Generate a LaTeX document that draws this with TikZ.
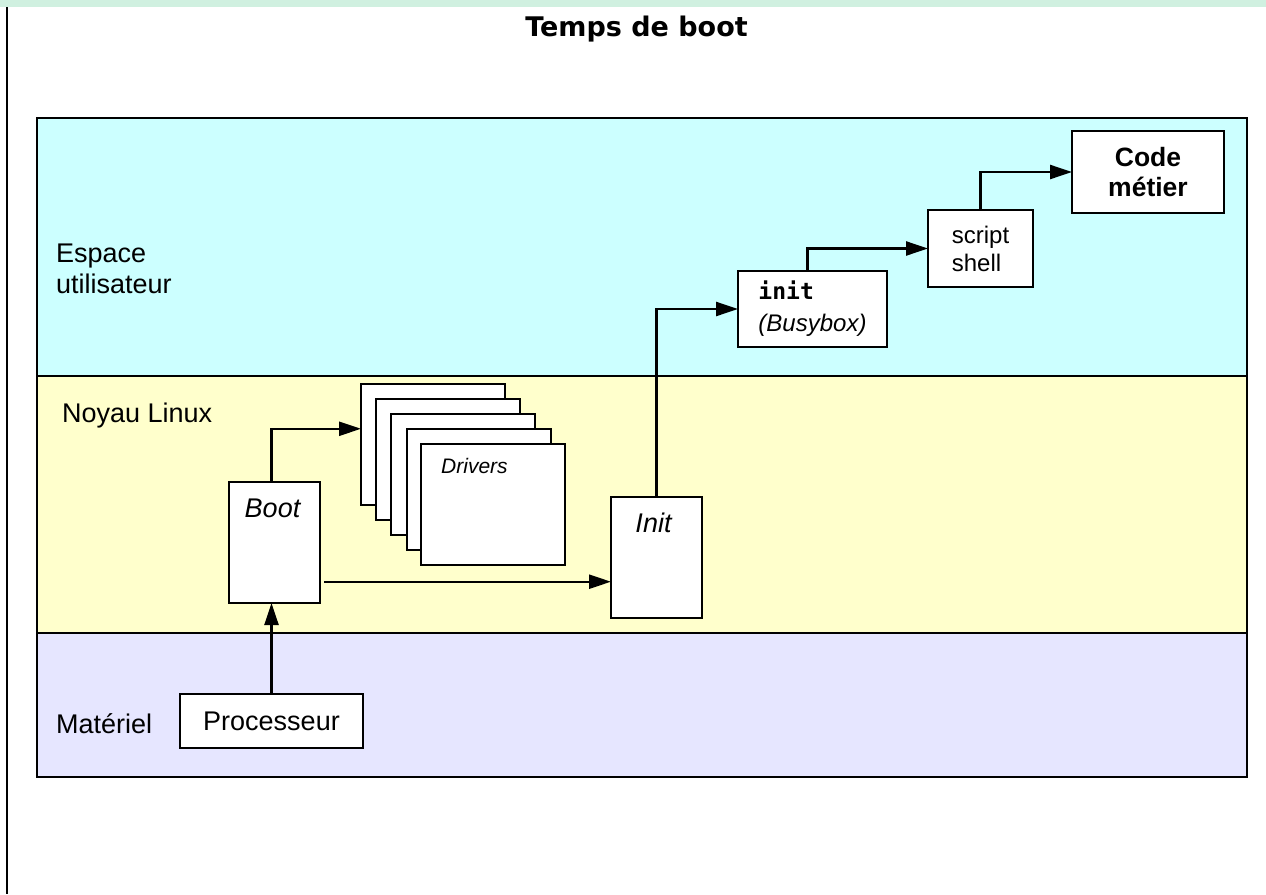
\documentclass[tikz,border=0pt]{standalone}
\usepackage{fontspec}
\setmainfont{Liberation Sans}
\newfontfamily\titlefont{DejaVu Sans}
\newfontfamily\codefont{DejaVu Sans Mono}
\usetikzlibrary{arrows.meta,calc}

\definecolor{stripgreen}{RGB}{208,240,224}
\definecolor{usercyan}{RGB}{204,255,255}
\definecolor{kernelyellow}{RGB}{255,255,204}
\definecolor{hwlavender}{RGB}{230,230,255}

\tikzset{
  layer/.style={draw=black, line width=2.4pt, anchor=north west, inner sep=0pt, outer sep=0pt},
  box/.style={draw=black, line width=2.4pt, fill=white, anchor=north west, inner sep=0pt, outer sep=0pt},
  arr/.style={line width=2.4pt, -{Triangle[length=22pt,width=14pt]}},
  lbl/.style={anchor=base west, inner sep=0pt, font=\fontsize{27}{31}\selectfont},
  boxtitle/.style={anchor=base, inner sep=0pt, font=\fontsize{27}{31}\selectfont\itshape},
}

\begin{document}
\begin{tikzpicture}[x=1pt, y=-1pt]
\useasboundingbox (0,0) rectangle (1266,894);

% page frame: top band and left rule
\fill[stripgreen] (0,0) rectangle (1266,7);
\draw[line width=2pt] (6.5,7) -- (6.5,894);

% title
\node[anchor=base, inner sep=0pt, font={\titlefont\bfseries\fontsize{27}{32}\selectfont}] (title) at (636.5,36) {Temps de boot};

% layers
\node[layer, fill=usercyan, minimum width=1210pt, minimum height=258pt] (user) at (37,118) {};
\node[layer, fill=kernelyellow, minimum width=1210pt, minimum height=257pt] (kernel) at (37,376) {};
\node[layer, fill=hwlavender, minimum width=1210pt, minimum height=144pt] (hw) at (37,633) {};

% multi-line label: base anchor sits on the last line
\node[lbl, align=left] (userlbl) at (56,293) {Espace\\utilisateur};
\node[lbl] (kernellbl) at (62,422) {Noyau Linux};
\node[lbl] (hwlbl) at (56,733) {Matériel};

% hardware
\node[box, minimum width=183pt, minimum height=54pt, font=\fontsize{27}{31}\selectfont] (proc) at (180,694) {Processeur};

% kernel
\node[box, minimum width=91pt, minimum height=121pt] (boot) at (229,482) {};
\node[boxtitle] (boottxt) at ($(boot.north)+(-2,35)$) {Boot};

\foreach \i/\x/\y in {1/361/384, 2/376/399, 3/391/414, 4/407/429, 5/421/444}
  \node[box, minimum width=144pt, minimum height=121pt] (drv\i) at (\x,\y) {};
\node[anchor=base west, inner sep=0pt, font=\fontsize{21}{25}\selectfont\itshape] (drvtxt) at ($(drv5.north west)+(20,29)$) {Drivers};

\node[box, minimum width=91pt, minimum height=121pt] (init) at (611,497) {};
\node[boxtitle] (inittxt) at ($(init.north)+(-3,35)$) {Init};

% user space
\node[box, minimum width=149pt, minimum height=76pt, align=left, font=\fontsize{24}{32}\selectfont] (busy) at (738,271)
  {{\codefont\bfseries\fontsize{23}{32}\selectfont init}\\{\itshape (Busybox)}};
\node[box, minimum width=105pt, minimum height=77pt, align=left, font=\fontsize{24}{28}\selectfont] (script) at (928,210) {script\\shell};
\node[box, minimum width=152pt, minimum height=82pt, align=center, font=\bfseries\fontsize{26.5}{30}\selectfont] (code) at (1072,131) {Code\\métier};

% boot sequence
\draw[arr] (proc.north) -- (proc.north |- boot.south);
\draw[arr] ([xshift=-3pt]boot.north) |- ($(drv1.north west)!0.37!(drv1.south west)$);
\coordinate (initin) at ($(init.north west)!0.7!(init.south west)$);
\draw[arr] (boot.east |- initin) ++(4pt,0) -- (initin);
\draw[arr] (init.north) |- (busy.west);
\draw[arr] ([xshift=-5pt]busy.north) |- (script.west);
\draw[arr] (script.north) |- (code.west);
\end{tikzpicture}
\end{document}
